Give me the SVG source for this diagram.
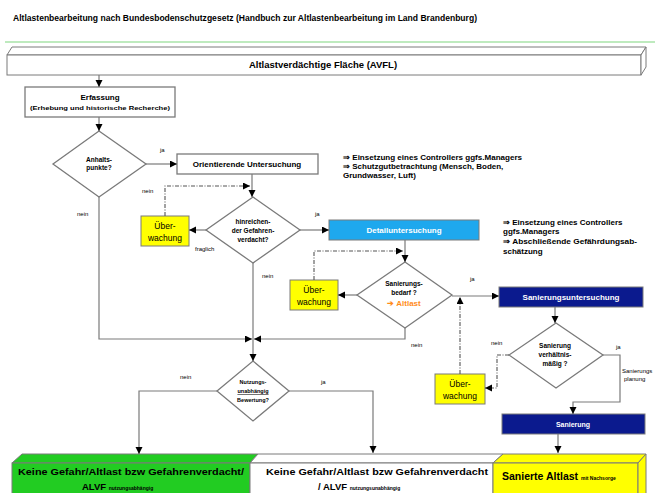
<svg xmlns="http://www.w3.org/2000/svg" width="662" height="493" viewBox="0 0 662 493">
<defs>
<marker id="ah" markerUnits="userSpaceOnUse" markerWidth="8" markerHeight="8" refX="7" refY="3.5" orient="auto"><path d="M0,0 L7,3.5 L0,7 z" fill="#000"/></marker>
</defs>
<style>
text{font-family:"Liberation Sans",Arial,sans-serif;fill:#000}
.b{font-weight:bold}
.c{text-anchor:middle}
.ln{fill:none;stroke:#7a7a7a;stroke-width:1.2}
.dl{fill:none;stroke:#555;stroke-width:1.1;stroke-dasharray:4 1.5 1 1.5}
.dia{fill:#fff;stroke:#7a7a7a;stroke-width:1.3}
.box{fill:#fff;stroke:#7a7a7a;stroke-width:1.3}
.ub{fill:#ffff00;stroke:#7a7a7a;stroke-width:1}
.dt{font-size:6.5px;font-weight:bold}
.ut{font-size:8.5px}
.wt{fill:#fff;font-weight:bold}
.sm{font-size:6px}
.note{font-size:8px;font-weight:bold}
</style>

<text x="13" y="21" class="b" font-size="9" textLength="464" lengthAdjust="spacingAndGlyphs">Altlastenbearbeitung nach Bundesbodenschutzgesetz  (Handbuch zur Altlastenbearbeitung im Land Brandenburg)</text>
<line x1="5" y1="42" x2="655" y2="42" stroke="#7fd67f" stroke-width="1.2"/>

<g id="avfl">
<polygon points="7,55 12,47 646,47 641,55" fill="#fff" stroke="#7a7a7a" stroke-width="1"/>
<rect x="7" y="55" width="634" height="20" fill="#fff" stroke="#7a7a7a" stroke-width="1"/>
<polygon points="641,55 646,47 646,67 641,75" fill="#fff" stroke="#7a7a7a" stroke-width="1"/>
<text x="323" y="68" class="b c" font-size="9.5">Altlastverdächtige Fläche (AVFL)</text>
</g>

<g id="erfassung">
<rect x="25" y="87" width="150" height="30" class="box"/>
<text x="100" y="100" class="b c" font-size="8">Erfassung</text>
<text x="100" y="110" class="b c" font-size="5" textLength="140" lengthAdjust="spacingAndGlyphs">(Erhebung und historische Recherche)</text>
</g>

<g id="anhaltspunkte">
<polygon points="99,131 146,164 99,197 53,164" class="dia"/>
<text x="99" y="162" class="dt c">Anhalts-</text>
<text x="99" y="170" class="dt c">punkte?</text>
</g>

<g id="orientierende">
<rect x="177" y="154" width="141" height="20" class="box"/>
<text x="247" y="167" class="b c" font-size="8">Orientierende Untersuchung</text>
</g>

<g id="note1">
<text x="343" y="160" class="note" textLength="179" lengthAdjust="spacingAndGlyphs">⇒ Einsetzung eines Controllers ggfs.Managers</text>
<text x="343" y="169" class="note">⇒ Schutzgutbetrachtung (Mensch,  Boden,</text>
<text x="343" y="178" class="note">Grundwasser, Luft)</text>
</g>

<g id="ueberwachung1">
<rect x="141" y="216" width="48" height="30" class="ub"/>
<text x="165" y="229" class="ut c">Über-</text>
<text x="165" y="241" class="ut c">wachung</text>
</g>

<g id="hinreichend">
<polygon points="253,197 300,230 253,263 206,230" class="dia"/>
<text x="253" y="224" class="dt c">hinreichen-</text>
<text x="253" y="233" class="dt c">der Gefahren-</text>
<text x="253" y="242" class="dt c">verdacht?</text>
</g>

<g id="detail">
<rect x="329" y="220" width="150" height="20" fill="#1ea8ee" stroke="#7a7a7a" stroke-width="1"/>
<text x="404" y="233" class="wt c" font-size="8">Detailuntersuchung</text>
</g>

<g id="note2">
<text x="503" y="225" class="note">⇒ Einsetzung eines Controllers</text>
<text x="503" y="234" class="note">ggfs.Managers</text>
<text x="503" y="244" class="note" textLength="134" lengthAdjust="spacingAndGlyphs">⇒  Abschließende Gefährdungsab-</text>
<text x="503" y="254" class="note">schätzung</text>
</g>

<g id="ueberwachung2">
<rect x="290" y="280" width="48" height="30" class="ub"/>
<text x="314" y="293" class="ut c">Über-</text>
<text x="314" y="305" class="ut c">wachung</text>
</g>

<g id="sanierungsbedarf">
<polygon points="405,262 452,295 405,328 357,295" class="dia"/>
<text x="404" y="286" class="dt c">Sanierungs-</text>
<text x="404" y="295" class="dt c">bedarf ?</text>
<text x="404" y="306" class="c b" font-size="8" style="fill:#ff8c1a">➔ Altlast</text>
</g>

<g id="sanierungsuntersuchung">
<rect x="499" y="287" width="144" height="20" fill="#0b1a8e" stroke="#7a7a7a" stroke-width="1"/>
<text x="571" y="300" class="wt c" font-size="8">Sanierungsuntersuchung</text>
</g>

<g id="verhaeltnis">
<polygon points="556,323 603,355 556,388 509,355" class="dia"/>
<text x="555" y="348" class="dt c">Sanierung</text>
<text x="555" y="357" class="dt c">verhältnis-</text>
<text x="555" y="366" class="dt c">mäßig ?</text>
</g>

<g id="ueberwachung3">
<rect x="435" y="374" width="50" height="30" class="ub"/>
<text x="460" y="387" class="ut c">Über-</text>
<text x="460" y="399" class="ut c">wachung</text>
</g>

<g id="sanierung">
<rect x="502" y="414" width="143" height="20" fill="#0b1a8e" stroke="#7a7a7a" stroke-width="1"/>
<text x="573" y="427" class="wt c" font-size="7">Sanierung</text>
</g>

<g id="nutzung">
<polygon points="253,361 289,391 253,421 217,391" class="dia"/>
<text x="253" y="384" class="c b" font-size="5.5">Nutzungs-</text>
<text x="253" y="393" class="c b" font-size="5.5" text-decoration="underline">unabhängig</text>
<text x="253" y="402" class="c b" font-size="5.5">Bewertung?</text>
</g>

<g id="ergebnis-gruen">
<polygon points="12,463 22,454 258,454 250,463" fill="#22cc22" stroke="#7a7a7a" stroke-width="1"/>
<rect x="12" y="463" width="238" height="32" fill="#22cc22" stroke="#7a7a7a" stroke-width="1"/>
<text x="131" y="475" class="b c" font-size="9.5" textLength="226" lengthAdjust="spacingAndGlyphs">Keine Gefahr/Altlast bzw Gefahrenverdacht/</text>
<text x="82" y="490" class="b" font-size="9.5">ALVF <tspan font-size="5">nutzungsabhängig</tspan></text>
</g>

<g id="ergebnis-weiss">
<polygon points="250,463 258,454 503,454 493,463" fill="#fff" stroke="#7a7a7a" stroke-width="1"/>
<rect x="250" y="463" width="243" height="32" fill="#fff" stroke="#7a7a7a" stroke-width="1"/>
<text x="377" y="475" class="b c" font-size="9.5" textLength="222" lengthAdjust="spacingAndGlyphs">Keine Gefahr/Altlast bzw Gefahrenverdacht</text>
<text x="318" y="490" class="b" font-size="9.5">/ ALVF <tspan font-size="5">nutzungsunabhängig</tspan></text>
</g>

<g id="ergebnis-gelb">
<polygon points="493,463 503,454 646,454 638,463" fill="#ffff00" stroke="#7a7a7a" stroke-width="1"/>
<rect x="493" y="463" width="145" height="32" fill="#ffff00" stroke="#7a7a7a" stroke-width="1"/>
<polygon points="638,463 646,454 646,495 638,495" fill="#ffff00" stroke="#7a7a7a" stroke-width="1"/>
<text x="502" y="480" class="b" font-size="10.5">Sanierte Altlast <tspan font-size="5">mit Nachsorge</tspan></text>
</g>

<g id="connectors">
<path class="ln" d="M99,75 V87" marker-end="url(#ah)"/>
<path class="ln" d="M99,117 V131" marker-end="url(#ah)"/>
<path class="ln" d="M146,164 H177" marker-end="url(#ah)"/>
<path class="ln" d="M99,197 V339 H252" marker-end="url(#ah)"/>
<path class="ln" d="M252,174 V197" marker-end="url(#ah)"/>
<path class="dl" d="M165,216 V186 H250" marker-end="url(#ah)"/>
<path class="ln" d="M206,230 H189" marker-end="url(#ah)"/>
<path class="ln" d="M300,230 H329" marker-end="url(#ah)"/>
<path class="ln" d="M253,263 V339"/>
<path class="ln" d="M405,240 V262" marker-end="url(#ah)"/>
<path class="dl" d="M314,280 V251 H403" marker-end="url(#ah)"/>
<path class="ln" d="M357,295 H338" marker-end="url(#ah)"/>
<path class="ln" d="M405,328 V339 H254" marker-end="url(#ah)"/>
<path class="ln" d="M253,339 V361" marker-end="url(#ah)"/>
<path class="ln" d="M452,296 H499" marker-end="url(#ah)"/>
<path class="dl" d="M460,374 V297" marker-end="url(#ah)"/>
<path class="ln" d="M555,307 V323" marker-end="url(#ah)"/>
<path class="dl" d="M509,355 H497 V388 H485" marker-end="url(#ah)"/>
<path class="ln" d="M603,355 H620 V402 H573 V414" marker-end="url(#ah)"/>
<path class="ln" d="M558,434 V453" marker-end="url(#ah)"/>
<path class="ln" d="M217,391 H139 V454" marker-end="url(#ah)"/>
<path class="ln" d="M289,391 H373 V453" marker-end="url(#ah)"/>
</g>

<g id="labels">
<text x="160" y="152" class="sm">ja</text>
<text x="142" y="193" class="sm" font-size="5">nein</text>
<text x="77" y="216" class="sm">nein</text>
<text x="315" y="216" class="sm">ja</text>
<text x="195" y="251" class="sm" font-size="5.5">fraglich</text>
<text x="262" y="278" class="sm">nein</text>
<text x="470" y="281" class="sm">ja</text>
<text x="411" y="347" class="sm">nein</text>
<text x="491" y="345" class="sm">nein</text>
<text x="616" y="349" class="sm">ja</text>
<text x="622" y="373" class="sm" font-size="5.5">Sanierungs</text>
<text x="624" y="381" class="sm" font-size="5.5">planung</text>
<text x="180" y="379" class="sm">nein</text>
<text x="321" y="384" class="sm">ja</text>
</g>
</svg>
